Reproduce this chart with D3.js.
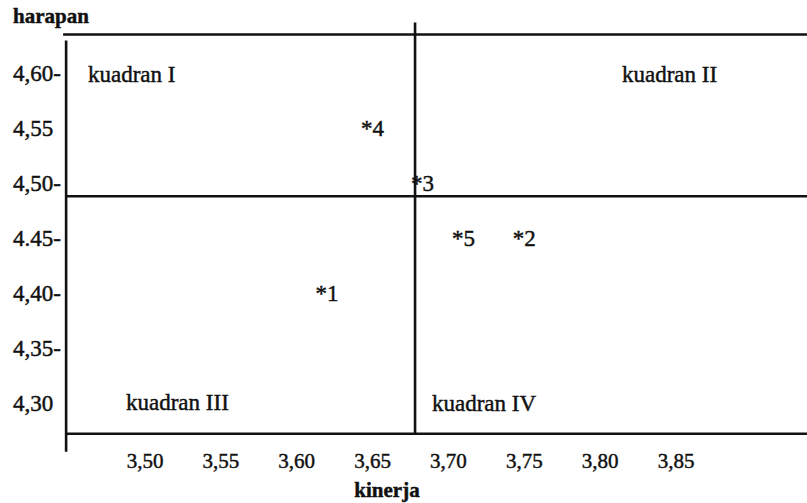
<!DOCTYPE html>
<html>
<head>
<meta charset="utf-8">
<script src="https://cdn.jsdelivr.net/npm/d3@7"></script>
<style>
  html, body { margin: 0; padding: 0; background: #fff; }
  svg { display: block; }
  text { font-family: "Liberation Serif", "Times New Roman", serif; fill: #111; stroke: #111; stroke-width: 0.45; }
</style>
</head>
<body>
<svg id="chart" width="807" height="503"></svg>
<script>
// ---- data ----
const pointIds = ["1", "2", "3", "4", "5"];
const kinerja  = [3.615, 3.745, 3.678, 3.645, 3.705];   // x (performance)
const harapan  = [4.40, 4.45, 4.50, 4.55, 4.45];        // y (expectation)

const xTickValues = [3.50, 3.55, 3.60, 3.65, 3.70, 3.75, 3.80, 3.85];
const xTickLabels = ["3,50", "3,55", "3,60", "3,65", "3,70", "3,75", "3,80", "3,85"];
const yTickValues = [4.60, 4.55, 4.50, 4.45, 4.40, 4.35, 4.30];
const yTickLabels = ["4,60-", "4,55", "4,50-", "4.45-", "4,40-", "4,35-", "4,30"];

const quadrantNames = ["kuadran I", "kuadran II", "kuadran III", "kuadran IV"];
const xDivider = 3.678;   // mean kinerja
const yDivider = 4.488;   // mean harapan
const xExtent = [3.448, 3.937];
const yExtent = [4.272, 4.635];

// ---- scales ----
const x = d3.scaleLinear().domain([3.50, 3.85]).range([145, 676]);
const y = d3.scaleLinear().domain([4.30, 4.60]).range([403, 73]);

const svg = d3.select("#chart");
svg.append("rect").attr("width", 807).attr("height", 503).attr("fill", "#fff");

const lineColor = "#111";
const lw = 2.6;

const g = svg.append("g");
// top line
g.append("line").attr("x1", x(xExtent[0]) - 3).attr("x2", x(xExtent[1]))
  .attr("y1", y(yExtent[1])).attr("y2", y(yExtent[1]))
  .attr("stroke", lineColor).attr("stroke-width", lw);
// left axis (extends below bottom)
g.append("line").attr("x1", x(xExtent[0])).attr("x2", x(xExtent[0]))
  .attr("y1", y(yExtent[1]) + 6).attr("y2", y(yExtent[0]) + 18)
  .attr("stroke", lineColor).attr("stroke-width", lw);
// bottom line
g.append("line").attr("x1", x(xExtent[0])).attr("x2", x(xExtent[1]))
  .attr("y1", y(yExtent[0])).attr("y2", y(yExtent[0]))
  .attr("stroke", lineColor).attr("stroke-width", lw);
// horizontal divider
g.append("line").attr("x1", x(xExtent[0])).attr("x2", x(xExtent[1]))
  .attr("y1", y(yDivider)).attr("y2", y(yDivider))
  .attr("stroke", lineColor).attr("stroke-width", lw);
// vertical divider
g.append("line").attr("x1", x(xDivider)).attr("x2", x(xDivider))
  .attr("y1", y(yExtent[1]) - 12).attr("y2", y(yExtent[0]))
  .attr("stroke", lineColor).attr("stroke-width", lw);

// y tick labels
svg.append("g").selectAll("text").data(yTickValues).join("text")
  .attr("x", 13).attr("y", d => y(d) + 8)
  .attr("font-size", 23)
  .text((d, i) => yTickLabels[i]);

// x tick labels
svg.append("g").selectAll("text").data(xTickValues).join("text")
  .attr("x", d => x(d)).attr("y", 468)
  .attr("text-anchor", "middle")
  .attr("font-size", 21)
  .text((d, i) => xTickLabels[i]);

// axis titles
svg.append("text").attr("x", 13).attr("y", 23)
  .attr("font-size", 21).attr("font-weight", "bold").text("harapan");
svg.append("text").attr("x", 387).attr("y", 497).attr("text-anchor", "middle")
  .attr("font-size", 21).attr("font-weight", "bold").text("kinerja");

// quadrant labels
const quadPos = [[88, 82], [622, 82], [126, 410], [432, 411]];
svg.append("g").selectAll("text").data(quadrantNames).join("text")
  .attr("x", (d, i) => quadPos[i][0]).attr("y", (d, i) => quadPos[i][1])
  .attr("font-size", 23)
  .text(d => d);

// points
svg.append("g").selectAll("text").data(pointIds).join("text")
  .attr("x", (d, i) => x(kinerja[i]) - 4)
  .attr("y", (d, i) => y(harapan[i]) + 8)
  .attr("font-size", 23)
  .text(d => "*" + d);
</script>
</body>
</html>
